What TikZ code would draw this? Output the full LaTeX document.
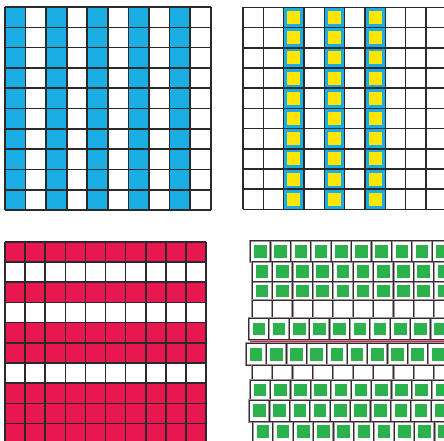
\documentclass[tikz,border=0pt]{standalone}
\definecolor{gline}{HTML}{2A2A2A}
\definecolor{gblue}{HTML}{1AAEE5}
\definecolor{gyellow}{HTML}{FFE600}
\definecolor{gred}{HTML}{E8174F}
\definecolor{ggreen}{HTML}{2BB24C}
\definecolor{gedge}{HTML}{3E262D}
\definecolor{gsoft}{HTML}{9A9A9A}

\begin{document}
\begin{tikzpicture}[
  x=1pt, y=-1pt,
  gridline/.style={draw=gline, line width=1.6pt},
  blueband/.style={fill=gblue},
  yellowsq/.style={fill=gyellow},
  redband/.style={fill=gred},
  tilecell/.style={draw=gsoft, line width=2.2pt},
  tileedge/.style={draw=gedge, line width=1pt},
  greensq/.style={fill=ggreen}
]
\useasboundingbox (0,0) rectangle (444,440);

% blue columns
\foreach \c in {0,2,4,6,8}
  \fill[blueband] ({5+20.57*\c},7) rectangle ++(20.57,203);
\foreach \i in {0,...,10} {
  \draw[gridline] ({5+20.57*\i},7) -- ++(0,203);
  \draw[gridline] (5,{7+20.3*\i}) -- ++(205.7,0);
}

% yellow squares in blue columns
\foreach \c in {2,4,6} {
  \fill[blueband] ({243+20.33*\c},7.3) rectangle ++(20.33,202);
  \foreach \r in {0,...,9}
    \fill[yellowsq] ({243+20.33*\c+3.6},{7.3+20.2*\r+3.6}) rectangle ++(13.2,13);
}
\foreach \i in {0,...,10} {
  \draw[gridline] ({243+20.33*\i},7.3) -- ++(0,202);
  \draw[gridline] (243,{7.3+20.2*\i}) -- ++(203.3,0);
}

% red rows
\foreach \r in {0,2,4,5,7,8,9}
  \fill[redband] (5,{241.7+20.2*\r}) rectangle ++(201,20.2);
\foreach \i in {0,...,10} {
  \draw[gridline] ({5+20.1*\i},241.7) -- ++(0,202);
  \draw[gridline] (5,{241.7+20.2*\i}) -- ++(201,0);
}

% green tiles, strips cut apart
\fill[redband] (250,339.6) rectangle (444,342.9);
\foreach \yy/\hh/\xx/\g in {240.7/21/250.3/1, 261.7/20/252/1, 281.7/18.5/252/1,
    300.2/18.1/252/0, 318.3/21.3/248.7/1, 343.3/21.7/246/1, 365/15/252/0,
    380/20/250/1, 400/21.7/249.3/1, 421.7/20/252.7/1} {
  \foreach \c in {0,...,9} {
    \draw[tilecell] ({\xx+20.2*\c},\yy) rectangle ++(20.2,\hh);
    \ifnum\g=1
      \fill[greensq] ({\xx+20.2*\c+3.8},{\yy+\hh/2-6.4}) rectangle ++(12.6,12.8);
    \fi
  }
  \draw[tileedge] (\xx,\yy) rectangle (450,{\yy+\hh});
  \foreach \c in {1,...,9}
    \draw[tileedge] ({\xx+20.2*\c},\yy) -- ++(0,\hh);
}
\end{tikzpicture}
\end{document}
